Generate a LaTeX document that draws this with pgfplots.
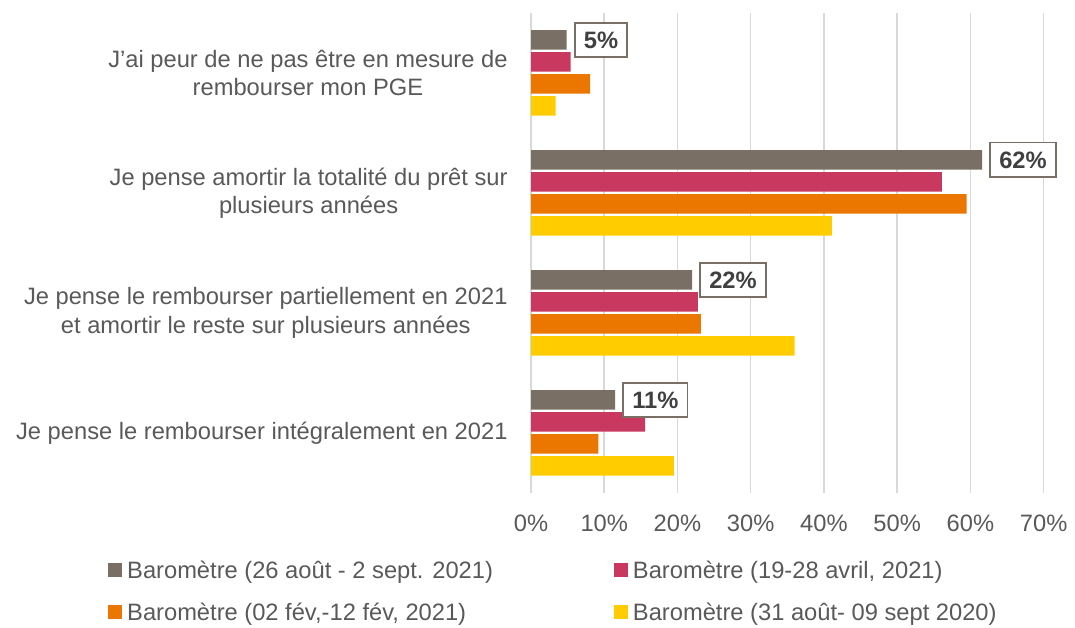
\documentclass[border=0pt]{standalone}
\usepackage{fontspec}
\setmainfont{Liberation Sans}
\usepackage{pgfplots}
\pgfplotsset{compat=1.18}
\definecolor{cgray}{HTML}{7A6F64}
\definecolor{cpink}{HTML}{C9385F}
\definecolor{corange}{HTML}{EC7700}
\definecolor{cyellow}{HTML}{FFCC00}
\definecolor{ctext}{HTML}{595959}
\definecolor{clabel}{HTML}{404040}
\definecolor{cgrid}{HTML}{D9D9D9}
\newcommand{\chartfont}{\fontsize{23.7bp}{28.5bp}\selectfont}
\begin{document}
\begin{tikzpicture}[x=1bp,y=1bp]
\useasboundingbox (0,0) rectangle (1075,628);
\begin{axis}[
  at={(531bp,135bp)}, anchor=south west,
  scale only axis, width=512.6bp, height=480bp,
  xbar, bar width=19.5bp,
  xmin=0, xmax=70, ymin=-0.5, ymax=3.5,
  clip=false,
  xtick={0,10,20,30,40,50,60,70},
  xticklabels={0\%,10\%,20\%,30\%,40\%,50\%,60\%,70\%},
  ytick={0,1,2,3},
  yticklabels={
    {Je pense le rembourser intégralement en 2021},
    {Je pense le rembourser partiellement en 2021\\et amortir le reste sur plusieurs années},
    {Je pense amortir la totalité du prêt sur\\plusieurs années},
    {J’ai peur de ne pas être en mesure de\\rembourser mon PGE}},
  axis line style={draw=none},
  tick style={draw=none},
  xmajorgrids, major grid style={cgrid, line width=1.5bp},
  xticklabel style={font=\chartfont, text=ctext, inner sep=0pt, anchor=north, yshift=-22bp},
  yticklabel style={font=\chartfont, text=ctext, inner sep=0pt, anchor=east, align=center, xshift=-19bp},
  legend columns=2,
  legend cell align=left,
  legend image code/.code={\fill[#1] (0bp,-7bp) rectangle (14bp,7bp);},
  legend style={draw=none, fill=none, inner sep=0pt, font=\chartfont, text=ctext,
    at={(axis description cs:-0.8252,-0.1410)}, anchor=north west,
    nodes={inner sep=0pt}, row sep=23bp,
    /tikz/every odd column/.append style={column sep=5bp},
    /tikz/every even column/.append style={column sep=121bp}},
]
\addplot[fill=cgray, draw=none, bar shift=33bp,
  point meta=explicit symbolic, nodes near coords,
  every node near coord/.append style={anchor=west, xshift=7.3bp, draw=cgray, fill=white,
    line width=1.8bp, text=clabel, font=\bfseries\chartfont, inner xsep=9bp, inner ysep=9bp}]
  coordinates {(11.48,0) [11\%] (22.0,1) [22\%] (61.6,2) [62\%] (4.88,3) [5\%]};
\addlegendentry{Baromètre (26 août - 2 sept. 2021)}
\addplot[fill=cpink, draw=none, bar shift=11bp]
  coordinates {(15.6,0) (22.8,1) (56.1,2) (5.42,3)};
\addlegendentry{Baromètre (19-28 avril, 2021)}
\addplot[fill=corange, draw=none, bar shift=-11bp]
  coordinates {(9.2,0) (23.2,1) (59.5,2) (8.06,3)};
\addlegendentry{Baromètre (02 fév,-12 fév, 2021)}
\addplot[fill=cyellow, draw=none, bar shift=-33bp]
  coordinates {(19.5,0) (36.0,1) (41.1,2) (3.37,3)};
\addlegendentry{Baromètre (31 août- 09 sept 2020)}
\end{axis}
\end{tikzpicture}
\end{document}
